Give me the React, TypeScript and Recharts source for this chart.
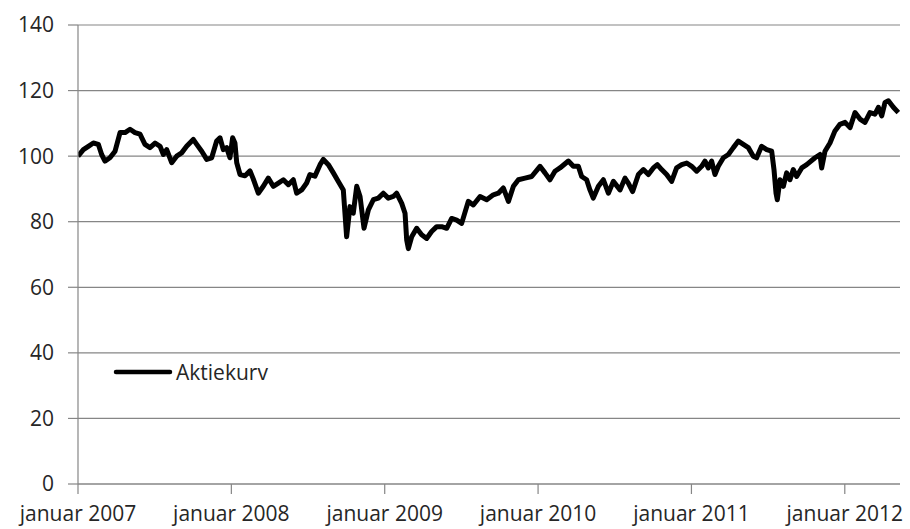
import { LineChart, Line, XAxis, YAxis, CartesianGrid } from 'recharts';

// months since januar 2007
const months = [
  0, 0.42, 0.81, 1.2, 1.59, 1.85, 2.11, 2.5, 2.9, 3.29, 3.68, 4.07, 4.46, 4.85, 5.24, 5.63,
  6.03, 6.42, 6.68, 6.94, 7.33, 7.72, 8.11, 8.5, 9.02, 9.29, 9.68, 10.07, 10.46, 10.85, 11.11,
  11.37, 11.63, 11.89, 12.1, 12.28, 12.42, 12.68, 13.07, 13.46, 13.72, 14.11, 14.5, 14.89,
  15.28, 15.68, 16.07, 16.46, 16.85, 17.11, 17.5, 17.89, 18.15, 18.54, 18.94, 19.2, 19.59,
  19.98, 20.37, 20.76, 21.02, 21.28, 21.54, 21.81, 22.07, 22.38, 22.72, 23.11, 23.5, 23.89,
  24.28, 24.67, 24.93, 25.33, 25.59, 25.72, 25.85, 26.11, 26.5, 26.89, 27.28, 27.67, 28.07,
  28.46, 28.85, 29.24, 29.63, 30.02, 30.54, 30.93, 31.46, 31.98, 32.5, 32.89, 33.28, 33.68,
  34.07, 34.46, 34.98, 35.5, 36.15, 36.54, 36.93, 37.32, 37.71, 38.37, 38.76, 39.15, 39.41,
  39.8, 40.06, 40.32, 40.72, 41.11, 41.5, 41.89, 42.41, 42.8, 43.06, 43.4, 43.85, 44.24,
  44.63, 45.02, 45.33, 45.67, 46.06, 46.45, 46.84, 47.24, 47.63, 48.02, 48.41, 48.8, 49.06,
  49.32, 49.58, 49.84, 50.1, 50.5, 50.89, 51.28, 51.67, 52.06, 52.45, 52.84, 53.1, 53.49,
  53.89, 54.28, 54.46, 54.62, 54.72, 54.93, 55.19, 55.45, 55.71, 55.97, 56.23, 56.63, 57.02,
  57.67, 58.06, 58.19, 58.45, 58.84, 59.23, 59.62, 60.02, 60.41, 60.8, 61.19, 61.58, 61.97,
  62.36, 62.63, 62.89, 63.15, 63.41, 63.8, 64.19,
];

const aktiekurv = [
  100, 102, 103, 104, 103.6, 100.5, 98.5, 99.5, 101.5, 107.2, 107.2, 108.2, 107.2, 106.7, 103.6, 102.6,
  104, 103, 100.5, 102, 98, 100, 101, 103, 105.1, 103.6, 101.5, 99, 99.5, 104.6, 105.6,
  102, 102.6, 99.5, 105.6, 104, 98, 94.4, 94, 95.5, 93, 88.7, 90.8, 93.3,
  90.8, 91.8, 92.8, 91.3, 92.8, 88.7, 89.7, 91.8, 94.4, 93.9, 97.4, 99, 97.4,
  94.9, 92.3, 89.7, 75.4, 84.6, 82.6, 90.8, 87.7, 78, 83.6, 86.7, 87.2, 88.7,
  87.2, 87.7, 88.7, 85.6, 82.6, 74.4, 71.8, 75.4, 78, 76, 74.9, 77, 78.5,
  78.5, 78, 81, 80.5, 79.5, 86.2, 85.1, 87.7, 86.7, 88.2, 88.7, 90.3, 86.2,
  90.8, 92.8, 93.3, 93.8, 96.9, 94.9, 92.8, 95.4, 96.4, 98.5, 96.9, 96.9, 93.8,
  92.8, 89.7, 87.2, 90.8, 92.8, 88.7, 92.3, 89.7, 93.3, 91.8, 89.2, 94.4, 95.9,
  94.4, 96.4, 97.4, 95.9, 94.4, 92.3, 96.4, 97.4, 97.9, 96.9, 95.4, 96.9, 98.5,
  96.4, 98.5, 94.4, 96.9, 99.5, 100.5, 102.6, 104.6, 103.6, 102.6, 100, 99.5, 103,
  102, 101.5, 95.9, 88.7, 86.7, 92.8, 90.8, 94.9, 92.8, 95.9, 93.8, 96.4, 97.4,
  99.5, 100.5, 96.4, 101.5, 104, 107.7, 109.7, 110.3, 108.7, 113.3, 111.3, 110.3, 113.3,
  112.8, 114.9, 112.3, 116.4, 116.9, 114.9, 113.3,
];

const xTicks = [0, 12, 24, 36, 48, 60];
const xTickLabels = ['januar 2007', 'januar 2008', 'januar 2009', 'januar 2010', 'januar 2011', 'januar 2012'];
const yTicks = [0, 20, 40, 60, 80, 100, 120, 140];

const data = months.map((m, i) => ({ m, kurs: aktiekurv[i] }));

const FONT = '"Open Sans", sans-serif';
const TEXT = '#262626';
const GRID = '#868686';

export default function App() {
  return (
    <div style={{ position: 'absolute', left: 0, top: 0, width: 910, height: 529, background: '#fff' }}>
      <LineChart width={910} height={529} data={data} margin={{ top: 25, right: 10, bottom: 0, left: 0 }}>
        <CartesianGrid vertical={false} stroke={GRID} strokeWidth={1.2} />
        <XAxis
          dataKey="m"
          type="number"
          domain={[0, 64.32]}
          ticks={xTicks}
          tickFormatter={(v: number) => xTickLabels[xTicks.indexOf(v)] ?? ''}
          tick={{ fontSize: 21, fill: TEXT, fontFamily: FONT }}
          height={45}
          tickSize={10}
          tickMargin={12}
          stroke={GRID}
          strokeWidth={1.2}
          interval={0}
          allowDataOverflow
        />
        <YAxis
          domain={[0, 140]}
          ticks={yTicks}
          width={78}
          tick={{ fontSize: 21, fill: TEXT, fontFamily: FONT }}
          tickSize={10}
          tickMargin={14}
          stroke={GRID}
          strokeWidth={1.2}
          interval={0}
        />
        <Line
          type="linear"
          dataKey="kurs"
          stroke="#000"
          strokeWidth={5}
          strokeLinejoin="round"
          dot={false}
          isAnimationActive={false}
        />
      </LineChart>
      <div
        style={{
          position: 'absolute', left: 113, top: 358, display: 'flex', alignItems: 'center',
          fontFamily: FONT, fontSize: 21, color: TEXT,
        }}
      >
        <svg width={60} height={8} style={{ marginRight: 3 }}>
          <line x1={3} y1={4} x2={57} y2={4} stroke="#000" strokeWidth={4.5} strokeLinecap="round" />
        </svg>
        <span>Aktiekurv</span>
      </div>
    </div>
  );
}
